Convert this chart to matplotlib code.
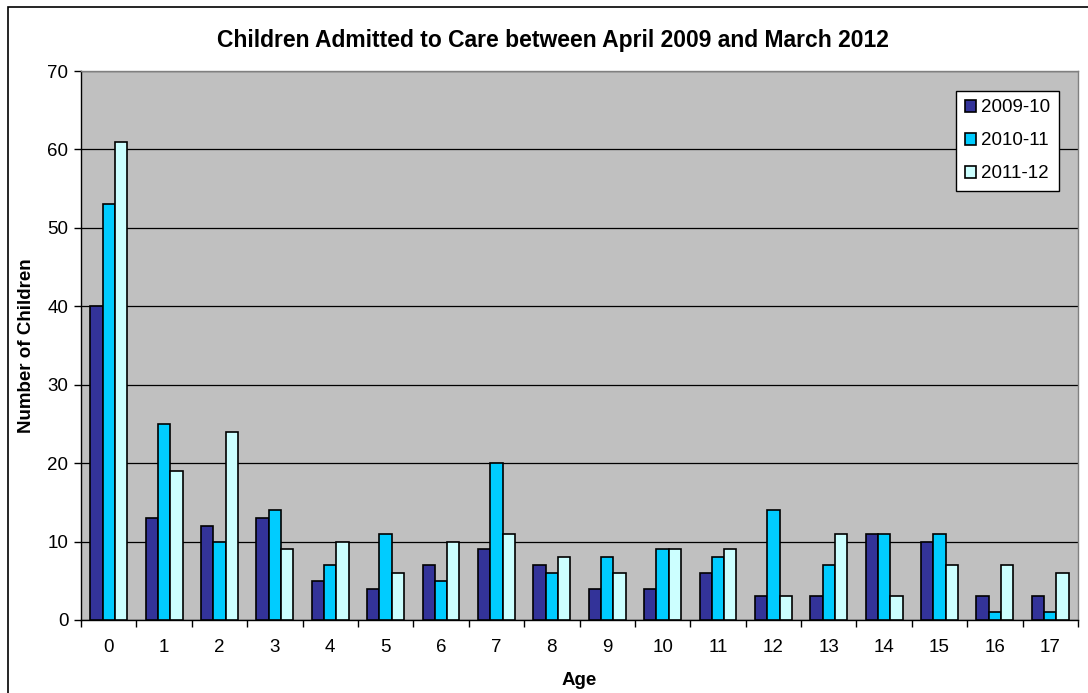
import numpy as np
import matplotlib.pyplot as plt
from matplotlib.patches import Rectangle

ages = [str(a) for a in range(18)]
y2009 = [40, 13, 12, 13, 5, 4, 7, 9, 7, 4, 4, 6, 3, 3, 11, 10, 3, 3]
y2010 = [53, 25, 10, 14, 7, 11, 5, 20, 6, 8, 9, 8, 14, 7, 11, 11, 1, 1]
y2011 = [61, 19, 24, 9, 10, 6, 10, 11, 8, 6, 9, 9, 3, 11, 3, 7, 7, 6]
series = ["2009-10", "2010-11", "2011-12"]
colors = ["#333399", "#00CCFF", "#CCFFFF"]

plt.rcParams["font.family"] = ["Liberation Sans", "DejaVu Sans"]

fig = plt.figure(figsize=(10.88, 6.93), dpi=100)
ax = fig.add_axes([81 / 1088, 1 - 620 / 693, (1078 - 81) / 1088, (620 - 71) / 693])

# outer chart border
fig.patches.append(Rectangle((8 / 1088, -0.01), 1.02, 1 - 7 / 693 + 0.01,
                             transform=fig.transFigure, fill=False,
                             edgecolor="black", linewidth=1.2))

x = np.arange(len(ages))
w = 1 / 4.5
for i, (vals, name) in enumerate(zip([y2009, y2010, y2011], series)):
    ax.bar(x + (i - 1) * w, vals, width=w, color=colors[i], edgecolor="black",
           linewidth=1.2, label=name, zorder=3)

ax.set_facecolor("#C0C0C0")
ax.set_xlim(-0.5, len(ages) - 0.5)
ax.set_ylim(0, 70)
ax.set_yticks(range(0, 71, 10))
ax.yaxis.grid(True, color="black", linewidth=0.9, zorder=1)
ax.set_xticks(x)
ax.set_xticklabels(ages, fontsize=13.5)
ax.set_xticks(np.arange(-0.5, len(ages), 1), minor=True)
ax.tick_params(axis="x", which="major", length=0, pad=14)
ax.tick_params(axis="x", which="minor", length=5, width=1, direction="out")
ax.tick_params(axis="y", labelsize=13.5, length=5, width=1, direction="out", pad=4)

for side in ["left", "bottom"]:
    ax.spines[side].set_color("black")
    ax.spines[side].set_linewidth(1.0)
for side in ["top", "right"]:
    ax.spines[side].set_color("#808080")
    ax.spines[side].set_linewidth(1.0)

ax.set_xlabel("Age", fontsize=13.5, fontweight="bold", labelpad=11)
ax.set_ylabel("Number of Children", fontsize=13.5, fontweight="bold", labelpad=9)
fig.text(553 / 1088, 1 - 40 / 693, "Children Admitted to Care between April 2009 and March 2012",
         ha="center", va="center", fontsize=16.5, fontweight="bold")

leg = ax.legend(loc="upper right", bbox_to_anchor=(0.981, 0.9636), fontsize=13.5,
                frameon=True, fancybox=False, framealpha=1, edgecolor="black",
                handlelength=0.6, handleheight=0.6, handletextpad=0.3,
                labelspacing=0.85, borderpad=0.45, borderaxespad=0)
leg.get_frame().set_linewidth(1.0)

fig.savefig("out.png", dpi=100)
